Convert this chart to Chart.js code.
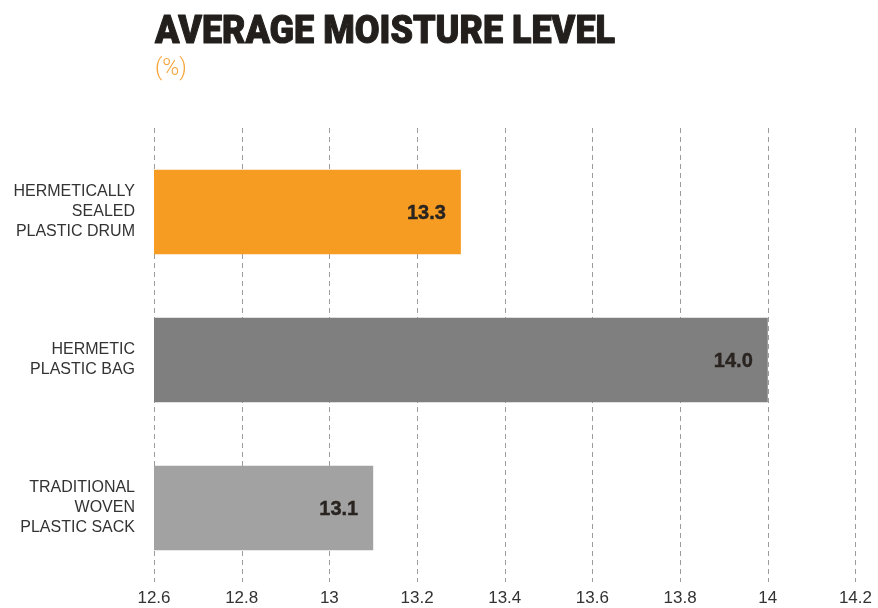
<!DOCTYPE html>
<html>
<head>
<meta charset="utf-8">
<title>Average moisture level</title>
<script src="https://cdn.jsdelivr.net/npm/chart.js@4.4.1/dist/chart.umd.min.js"></script>
<style>
  html, body { margin: 0; padding: 0; background: #ffffff; }
  #wrap { width: 878px; height: 608px; }
</style>
</head>
<body>
<div id="wrap">
  <canvas id="myChart" width="878" height="608"></canvas>
</div>
<script>
// storage types, top to bottom
const categories = [
  ["HERMETICALLY", "SEALED", "PLASTIC DRUM"],
  ["HERMETIC", "PLASTIC BAG"],
  ["TRADITIONAL", "WOVEN", "PLASTIC SACK"]
];
// average moisture, %
const moisture = [13.3, 14.0, 13.1];
const barColors = ["#F79C22", "#7F7F7F", "#A2A2A2"];
const xTickLabels = ["12.6", "12.8", "13", "13.2", "13.4", "13.6", "13.8", "14", "14.2"];

const titleText = "AVERAGE MOISTURE LEVEL";
const subtitleText = "(%)";

// heading + unit, left aligned with the plot area
const headingPlugin = {
  id: "heading",
  afterDraw(chart) {
    const ctx = chart.ctx;
    const left = chart.chartArea.left + 1;
    ctx.save();
    ctx.fillStyle = "#231F1C";
    ctx.strokeStyle = "#231F1C";
    ctx.lineWidth = 1;
    ctx.lineJoin = "round";
    ctx.font = "900 36px Roboto, 'Liberation Sans', sans-serif";
    ctx.textBaseline = "alphabetic";
    ctx.textAlign = "left";
    const w = ctx.measureText(titleText).width;
    ctx.translate(left, 43);
    ctx.scale(Math.min(1, 460 / w), 1.06);
    ctx.fillText(titleText, 0, 0);
    ctx.strokeText(titleText, 0, 0);
    ctx.restore();

    ctx.save();
    ctx.fillStyle = "#F6A53C";
    ctx.font = "300 23px Roboto, 'Liberation Sans', sans-serif";
    ctx.textBaseline = "alphabetic";
    ctx.fillText(subtitleText, left, 75);
    ctx.restore();
  }
};

// dashed vertical grid, running a little above the plot area
const dashedGrid = {
  id: "dashedGrid",
  beforeDatasetsDraw(chart) {
    const ctx = chart.ctx;
    const x = chart.scales.x;
    const area = chart.chartArea;
    ctx.save();
    ctx.strokeStyle = "#9C9C9C";
    ctx.lineWidth = 1;
    ctx.setLineDash([5, 4]);
    x.ticks.forEach(t => {
      const px = Math.round(x.getPixelForValue(t.value)) + 0.5;
      ctx.beginPath();
      ctx.moveTo(px, area.top - 10);
      ctx.lineTo(px, area.bottom);
      ctx.stroke();
    });
    ctx.restore();
  }
};

// value written inside the end of each bar
const barValues = {
  id: "barValues",
  afterDatasetsDraw(chart) {
    const ctx = chart.ctx;
    const meta = chart.getDatasetMeta(0);
    ctx.save();
    ctx.fillStyle = "#2A2421";
    ctx.strokeStyle = "#2A2421";
    ctx.lineWidth = 0.4;
    ctx.font = "bold 20px 'Liberation Sans', Arial, sans-serif";
    ctx.textAlign = "right";
    ctx.textBaseline = "middle";
    meta.data.forEach((bar, i) => {
      const label = moisture[i].toFixed(1);
      ctx.fillText(label, bar.x - 15, bar.y + 1);
      ctx.strokeText(label, bar.x - 15, bar.y + 1);
    });
    ctx.restore();
  }
};

const myChartRef = document.getElementById("myChart").getContext("2d");

new Chart(myChartRef, {
  type: "bar",
  data: {
    labels: categories,
    datasets: [
      {
        data: moisture,
        backgroundColor: barColors,
        borderWidth: 0,
        barPercentage: 1,
        categoryPercentage: 0.57
      }
    ]
  },
  options: {
    indexAxis: "y",
    responsive: false,
    animation: false,
    layout: {
      padding: { top: 138, right: 20, bottom: 0, left: 0 }
    },
    plugins: {
      legend: { display: false },
      tooltip: { enabled: false }
    },
    scales: {
      x: {
        min: 12.6,
        max: 14.2,
        afterFit: scale => { scale.height = 26; },
        ticks: {
          stepSize: 0.2,
          padding: 6,
          color: "#333333",
          font: { family: "'Liberation Sans', Arial, sans-serif", size: 17, lineHeight: 1.2 },
          maxRotation: 0,
          autoSkip: false,
          callback: (value, index) => xTickLabels[index]
        },
        grid: { display: false, drawTicks: false },
        border: { display: false }
      },
      y: {
        afterFit: scale => {
          scale.width = 154;
          scale.paddingTop = 0;
          scale.paddingBottom = 0;
        },
        ticks: {
          padding: 19,
          color: "#333333",
          font: { family: "'Liberation Sans', Arial, sans-serif", size: 16, lineHeight: 1.25 }
        },
        grid: { display: false, drawTicks: false },
        border: { display: false }
      }
    }
  },
  plugins: [dashedGrid, barValues, headingPlugin]
});
</script>
</body>
</html>
